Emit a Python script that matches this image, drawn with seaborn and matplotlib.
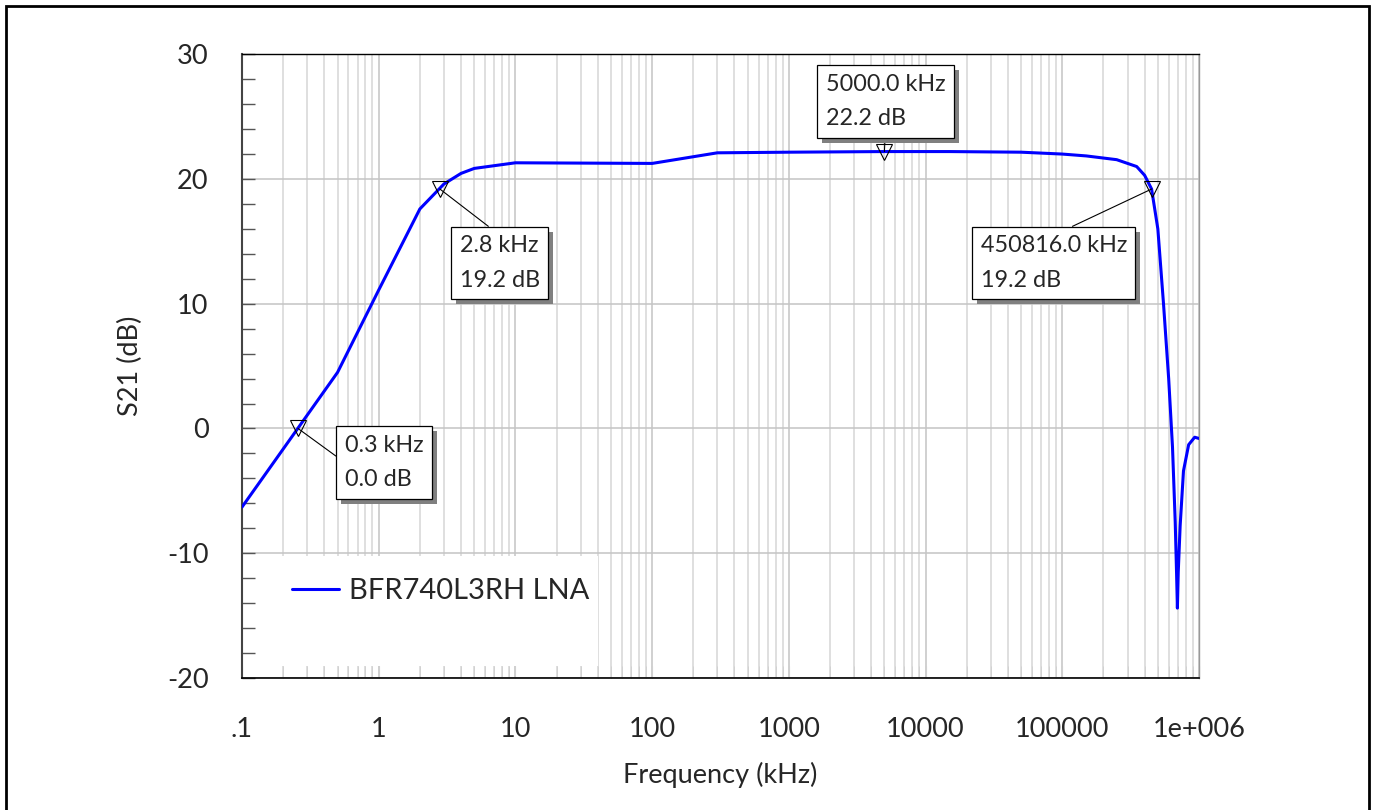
import seaborn as sns
import matplotlib.pyplot as plt
import matplotlib.ticker as mticker
import matplotlib.patheffects as pe
from matplotlib.patches import Rectangle
import pandas as pd

# S21 trace (frequency in kHz, gain in dB)
freq_khz = [0.1, 0.5, 1, 2, 3, 4, 5, 10, 100, 300, 1000, 5000, 15000, 50000,
            100000, 150000, 250000, 350000, 400000, 450000, 500000, 550000,
            600000, 640000, 670000, 685000, 695000, 705000, 728000, 770000,
            840000, 930000, 1000000]
s21_db = [-6.3, 4.5, 11.1, 17.6, 19.6, 20.45, 20.85, 21.3, 21.25, 22.1, 22.15,
          22.2, 22.2, 22.15, 22.0, 21.85, 21.55, 21.0, 20.3, 19.2, 16.0, 10.0,
          4.0, -1.5, -7.5, -11.5, -14.4, -11.5, -7.8, -3.4, -1.3, -0.7, -0.8]
series_name = 'BFR740L3RH LNA'

# markers
marker_freq = [0.257, 2.8, 5000.0, 450816.0]
marker_db = [0.0, 19.2, 22.2, 19.2]

xtick_vals = [0.1, 1, 10, 100, 1000, 10000, 100000, 1000000]
xtick_labels = ['.1', '1', '10', '100', '1000', '10000', '100000', '1e+006']

sns.set_style("white")
plt.rcParams['font.family'] = ['Lato', 'DejaVu Sans']
plt.rcParams['axes.unicode_minus'] = False

fig = plt.figure(figsize=(13.75, 8.1), dpi=100)
ax = fig.add_axes([0.176, 0.163, 0.696, 0.770])

df = pd.DataFrame({'freq': freq_khz, 'db': s21_db, 'trace': series_name})
sns.lineplot(data=df, x='freq', y='db', hue='trace', palette=['#0000ff'],
             linewidth=2.2, ax=ax, legend=False, zorder=3)
ax.plot(marker_freq, marker_db, ls='none', marker='v', ms=12, mfc='none',
        mec='black', mew=0.8, zorder=4)

ax.set_xscale('log')
ax.set_xlim(0.1, 1e6)
ax.set_ylim(-20, 30)
ax.xaxis.set_major_locator(mticker.FixedLocator(xtick_vals))
ax.xaxis.set_major_formatter(mticker.FixedFormatter(xtick_labels))
ax.xaxis.set_minor_locator(mticker.LogLocator(base=10, subs=range(2, 10), numticks=20))
ax.xaxis.set_minor_formatter(mticker.NullFormatter())
ax.yaxis.set_major_locator(mticker.MultipleLocator(10))
ax.yaxis.set_minor_locator(mticker.MultipleLocator(2))

ax.grid(which='major', axis='both', color='#c4c4c4', lw=1.1)
ax.grid(which='minor', axis='x', color='#d6d6d6', lw=1.1)
ax.tick_params(axis='y', which='both', direction='in', length=9.5, width=1,
               color='#555555', left=True, pad=24, labelsize=19.5)
ax.tick_params(axis='x', which='both', direction='in', length=9,
               color='#d0d0d0', bottom=True, pad=28, labelsize=19.5)

for side, col, lw in [('left', '#444444', 1.5), ('bottom', 'black', 1.2),
                      ('top', 'black', 1.0), ('right', '#999999', 1.0)]:
    ax.spines[side].set_color(col)
    ax.spines[side].set_linewidth(lw)

ax.set_xlabel('Frequency (kHz)', fontsize=19.5)
ax.set_ylabel('S21 (dB)', fontsize=19.5)
ax.xaxis.set_label_coords(0.5, -0.135)
ax.yaxis.set_label_coords(-0.103, 0.5)

# white legend area hiding the grid
ax.add_patch(Rectangle((0.015, 0.019), 0.357, 0.177, transform=ax.transAxes,
                       fc='white', ec='none', zorder=1))
ax.legend(handles=[ax.lines[0]], labels=[series_name], loc='center left',
          bbox_to_anchor=(0.052, 0.139), frameon=False, fontsize=21,
          handlelength=1.62, handletextpad=0.35, borderpad=0, borderaxespad=0)

# marker callouts: box offset in pixels and where the leader leaves the box
box_offsets = [(86, -34), (60, -74), (1, 50), (-98, -74)]
leader_from = [(0, 0.5), (0.5, 1), (0.5, 0), (0.5, 1)]
for f, d, off, rp in zip(marker_freq, marker_db, box_offsets, leader_from):
    ann = ax.annotate(f"{f:.1f} kHz\n{d:.1f} dB", xy=(f, d), xytext=off,
                      textcoords='offset pixels', ha='center', va='center',
                      multialignment='left', fontsize=16.8, linespacing=1.8,
                      bbox=dict(boxstyle='square,pad=0.36', fc='white',
                                ec='black', lw=0.9),
                      arrowprops=dict(arrowstyle='-', color='black', lw=0.8,
                                      shrinkA=0, shrinkB=0, relpos=rp),
                      zorder=5)
    ann.get_bbox_patch().set_path_effects(
        [pe.withSimplePatchShadow(offset=(3.6, -3.6), shadow_rgbFace='#808080', alpha=1.0)])

# outer frame (bottom edge lies outside the picture)
fig.add_artist(Rectangle((6 / 1375, -0.05), 1363 / 1375, 1.05 - 6 / 810,
                         transform=fig.transFigure, fill=False, ec='black', lw=2))

plt.savefig('out.png', dpi=100)
